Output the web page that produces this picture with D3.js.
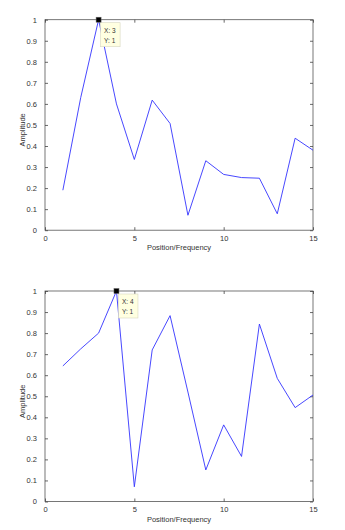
<!DOCTYPE html>
<html>
<head>
<meta charset="utf-8">
<script src="https://cdn.jsdelivr.net/npm/d3@7"></script>
<style>
body { margin: 0; background: #fff; }
svg text { font-family: Arial, "Liberation Sans", sans-serif; }
</style>
</head>
<body>
<svg id="fig" width="345" height="530"></svg>
<script>
// data
let positions = [1,2,3,4,5,6,7,8,9,10,11,12,13,14,15];
let amp1 = [0.19,0.63,1,0.60,0.336,0.618,0.507,0.071,0.33,0.265,0.25,0.247,0.078,0.437,0.38];
let amp2 = [0.644,0.725,0.80,1,0.07,0.72,0.883,0.52,0.15,0.364,0.214,0.843,0.585,0.446,0.506];
let xTicks = [0,5,10,15];
let yTicks = [0,0.1,0.2,0.3,0.4,0.5,0.6,0.7,0.8,0.9,1];
let tips = [{x: 3, y: 1}, {x: 4, y: 1}];

let svg = d3.select("#fig");

function drawPanel(values, tip, top) {
    let margin = {left: 45, top: top},
        width = 268,
        height = 210.5;

    let x = d3.scaleLinear().domain([0, 15]).range([0, width]);
    let y = d3.scaleLinear().domain([0, 1]).range([height, 0]);

    let g = svg.append("g")
        .attr("transform", "translate(" + margin.left + "," + margin.top + ")");

    //box
    g.append("rect")
        .attr("width", width).attr("height", height)
        .attr("fill", "none").attr("stroke", "#555").attr("stroke-width", 0.8);

    //ticks inward, all four sides
    let axStyle = function(sel) {
        sel.select(".domain").remove();
        sel.selectAll("line").attr("stroke", "#444").attr("stroke-width", 0.8);
        sel.selectAll("text").style("font-size", "7.5px").attr("fill", "#333");
    };
    g.append("g").attr("transform", "translate(0," + height + ")")
        .call(d3.axisBottom(x).tickValues(xTicks).tickSizeInner(-3).tickPadding(5).tickFormat(d3.format("d")))
        .call(axStyle);
    g.append("g")
        .call(d3.axisTop(x).tickValues(xTicks).tickSizeInner(-3).tickFormat(""))
        .call(axStyle);
    g.append("g")
        .call(d3.axisLeft(y).tickValues(yTicks).tickSizeInner(-3).tickPadding(8).tickFormat(d3.format("")))
        .call(axStyle);
    g.append("g").attr("transform", "translate(" + width + ",0)")
        .call(d3.axisRight(y).tickValues(yTicks).tickSizeInner(-3).tickFormat(""))
        .call(axStyle);

    //line
    let valueline = d3.line()
        .x(function(d, i) { return x(positions[i]); })
        .y(function(d) { return y(d); });
    g.append("path")
        .datum(values)
        .attr("d", valueline)
        .attr("fill", "none")
        .attr("stroke", "#3333ff")
        .attr("stroke-width", 0.9);

    //data tip
    let tx = x(tip.x), ty = y(tip.y);
    g.append("rect")
        .attr("x", tx + 2).attr("y", ty + 3)
        .attr("width", 19.5).attr("height", 24)
        .attr("fill", "#ffffe1").attr("stroke", "#d8d8c0").attr("stroke-width", 0.6);
    g.append("text").attr("x", tx + 5.5).attr("y", ty + 13)
        .style("font-size", "6.5px").attr("fill", "#333").text("X: " + tip.x);
    g.append("text").attr("x", tx + 5.5).attr("y", ty + 23)
        .style("font-size", "6.5px").attr("fill", "#333").text("Y: " + tip.y);
    g.append("rect")
        .attr("x", tx - 2.5).attr("y", ty - 2.5)
        .attr("width", 5).attr("height", 5)
        .attr("fill", "#000").attr("stroke", "#666").attr("stroke-width", 0.5);

    //labels
    g.append("text")
        .attr("x", width / 2).attr("y", height + 20)
        .style("text-anchor", "middle").style("font-size", "7.5px").attr("fill", "#333")
        .text("Position/Frequency");
    g.append("text")
        .attr("transform", "rotate(-90)")
        .attr("x", -height / 2 - 5).attr("y", -20)
        .style("text-anchor", "middle").style("font-size", "7.5px").attr("fill", "#333")
        .text("Amplitude");
}

drawPanel(amp1, tips[0], 19.7);
drawPanel(amp2, tips[1], 291);
</script>
</body>
</html>
